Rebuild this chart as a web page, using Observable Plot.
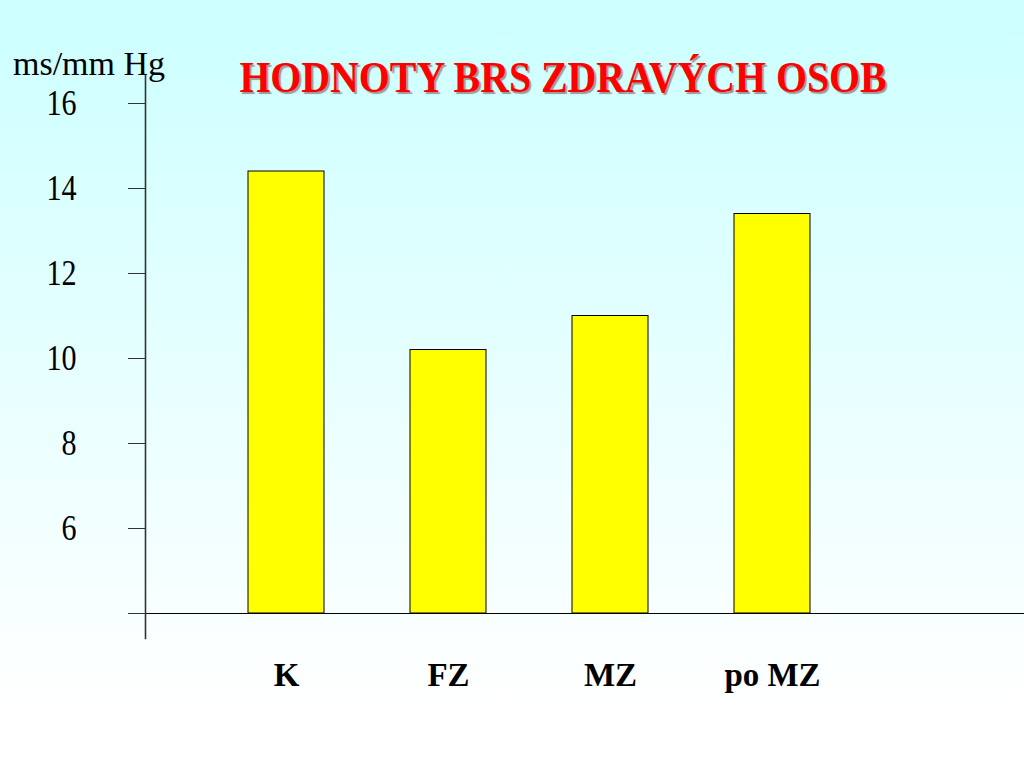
<!DOCTYPE html>
<html>
<head>
<meta charset="utf-8">
<script src="https://cdn.jsdelivr.net/npm/d3@7"></script>
<script src="https://cdn.jsdelivr.net/npm/@observablehq/plot@0.6"></script>
<style>
  html, body { margin: 0; padding: 0; }
  body {
    width: 1024px; height: 768px; overflow: hidden; position: relative;
    background: linear-gradient(to bottom, #ccffff 0%, #e8ffff 50%, #ffffff 92%);
    font-family: "Liberation Serif", "Times New Roman", serif;
  }
  #chart { position: absolute; left: 0; top: 0; }
  #title {
    position: absolute; left: 0; width: 1126px; top: 52px; text-align: center;
    font-size: 44px; font-weight: bold; color: #ff0000;
    text-shadow: 2px 2px 1px #9a9a9a; white-space: nowrap;
    transform: scaleX(0.905); transform-origin: 563px 0;
  }
  #unit {
    position: absolute; left: 13px; top: 45px; font-size: 34px; color: #000; white-space: nowrap;
  }
</style>
</head>
<body>
<div id="chart"></div>
<div id="title">HODNOTY BRS ZDRAVÝCH OSOB</div>
<div id="unit">ms/mm Hg</div>
<script>
const categories = ["K", "FZ", "MZ", "po MZ"];
const values = [14.4, 10.2, 11.0, 13.4];
const yTicks = [4, 6, 8, 10, 12, 14, 16];
const yBase = 4;

const data = categories.map((c, i) => ({cat: c, value: values[i]}));

const chart = Plot.plot({
  width: 1024,
  height: 768,
  marginLeft: 145,
  marginRight: 0,
  marginTop: 75,
  marginBottom: 130,
  style: {fontFamily: "'Liberation Serif', 'Times New Roman', serif", background: "transparent", color: "#000", overflow: "visible"},
  x: {type: "band", domain: categories, range: [205, 853], paddingInner: 0.53, paddingOuter: 0.265, label: null},
  y: {domain: [4, 16], range: [613, 103], label: null},
  marks: [
    Plot.barY(data, {x: "cat", y1: yBase, y2: "value", fill: "#ffff00", stroke: "#000", strokeWidth: 1}),
    Plot.ruleY([yBase], {stroke: "#000", strokeWidth: 1.2}),
    Plot.frame({anchor: "left", stroke: "#333", strokeWidth: 1.6}),
    Plot.axisY({ticks: yTicks, tickSize: 17, tickPadding: 52, tickFormat: d => d === yBase ? "" : String(d), fontSize: 35, stroke: "#333", label: null}),
    Plot.axisX({tickSize: 0, tickPadding: 23, fontSize: 34, fontWeight: "bold", label: null})
  ]
});
document.getElementById("chart").appendChild(chart);

// Condense tick label glyphs horizontally, like the reference font
function condense(sel, k) {
  d3.select(chart).selectAll(sel).selectAll("text").each(function() {
    const t = this.getAttribute("transform") || "";
    this.setAttribute("transform", t + ` scale(${k},1)`);
  });
}
condense('g[aria-label="y-axis tick label"]', 0.86);
condense('g[aria-label="x-axis tick label"]', 0.97);
</script>
</body>
</html>
